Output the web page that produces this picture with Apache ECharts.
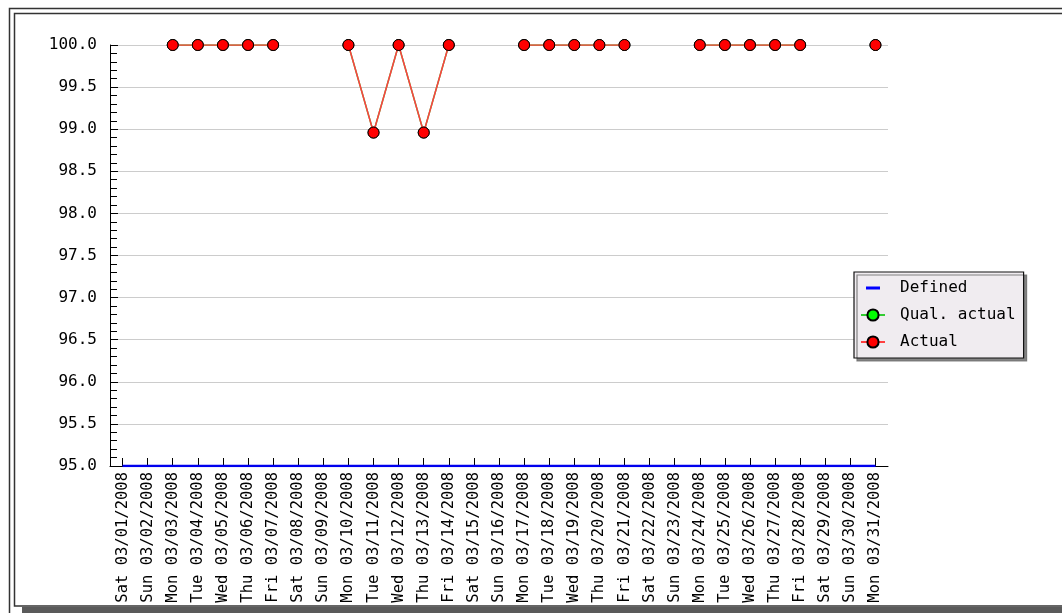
<!DOCTYPE html>
<html>
<head>
<meta charset="utf-8">
<script src="https://cdn.jsdelivr.net/npm/echarts@6/dist/echarts.min.js"></script>
<style>
html,body{margin:0;padding:0;background:#fff;}
#chart{width:1062px;height:613px;}
</style>
</head>
<body>
<div id="chart"></div>
<script>
var days = ['Sat','Sun','Mon','Tue','Wed','Thu','Fri','Sat','Sun','Mon','Tue','Wed','Thu','Fri','Sat','Sun','Mon','Tue','Wed','Thu','Fri','Sat','Sun','Mon','Tue','Wed','Thu','Fri','Sat','Sun','Mon'];
var dates = ['03/01/2008','03/02/2008','03/03/2008','03/04/2008','03/05/2008','03/06/2008','03/07/2008','03/08/2008','03/09/2008','03/10/2008','03/11/2008','03/12/2008','03/13/2008','03/14/2008','03/15/2008','03/16/2008','03/17/2008','03/18/2008','03/19/2008','03/20/2008','03/21/2008','03/22/2008','03/23/2008','03/24/2008','03/25/2008','03/26/2008','03/27/2008','03/28/2008','03/29/2008','03/30/2008','03/31/2008'];
var defined = [95,95,95,95,95,95,95,95,95,95,95,95,95,95,95,95,95,95,95,95,95,95,95,95,95,95,95,95,95,95,95];
var qualActual = [null,null,100,100,100,100,100,null,null,100,98.96,100,98.96,100,null,null,100,100,100,100,100,null,null,100,100,100,100,100,null,null,100];
var actual = [null,null,100,100,100,100,100,null,null,100,98.96,100,98.96,100,null,null,100,100,100,100,100,null,null,100,100,100,100,100,null,null,100];
var yTicks = {min: 95, max: 100, interval: 0.5};

var categories = dates.map(function(d, i){ return days[i] + ' ' + d; });
var FONT = 'DejaVu Sans Mono';

var chart = echarts.init(document.getElementById('chart'));
chart.setOption({
  animation: false,
  backgroundColor: '#ffffff',
  textStyle: {fontFamily: FONT},
  grid: {left: 110, right: 174, top: 45, bottom: 147, containLabel: false},
  graphic: [
    {type: 'rect', shape: {x: 9.5, y: 8.5, width: 1100, height: 700}, style: {fill: null, stroke: '#333', lineWidth: 1.5}, silent: true},
    {type: 'rect', shape: {x: 14.5, y: 13.5, width: 1100, height: 592.5}, style: {fill: null, stroke: '#333', lineWidth: 1.5}, silent: true},
    {type: 'rect', shape: {x: 22, y: 607, width: 1100, height: 10}, style: {fill: '#5a5a5a'}, silent: true}
  ],
  legend: {
    orient: 'vertical',
    left: 854,
    top: 272,
    padding: [8, 8, 8, 6],
    itemWidth: 24,
    itemHeight: 14,
    itemGap: 11,
    backgroundColor: '#f0ecf0',
    borderColor: '#111',
    borderWidth: 1.2,
    shadowColor: 'rgba(110,110,110,0.85)',
    shadowOffsetX: 3,
    shadowOffsetY: 3,
    shadowBlur: 0,
    textStyle: {fontFamily: FONT, fontSize: 16, color: '#000', padding: [0, 0, 0, 10]},
    data: [
      {name: 'Defined', icon: 'path://M0,0h0.05v0.05h-0.05z M5,5.5h14v3h-14z M23.95,13.95h0.05v0.05h-0.05z', itemStyle: {color: '#0000ff', borderWidth: 0}},
      {name: 'Qual. actual'},
      {name: 'Actual'}
    ]
  },
  xAxis: {
    type: 'category',
    data: categories,
    boundaryGap: true,
    axisLine: {lineStyle: {color: '#000', width: 1}},
    axisTick: {show: true, inside: true, alignWithLabel: true, length: 8, lineStyle: {color: '#000', width: 1}},
    axisLabel: {rotate: 90, margin: 6, fontFamily: FONT, fontSize: 15.5, color: '#000', interval: 0},
    splitLine: {show: false}
  },
  yAxis: {
    type: 'value',
    min: yTicks.min,
    max: yTicks.max,
    interval: yTicks.interval,
    axisLine: {show: true, lineStyle: {color: '#000', width: 1}},
    axisTick: {show: true, inside: true, length: 8, lineStyle: {color: '#000'}},
    minorTick: {show: true, splitNumber: 5, length: 7, lineStyle: {color: '#000'}},
    axisLabel: {margin: 13, fontFamily: FONT, fontSize: 16, color: '#000', formatter: function(v){ return v.toFixed(1); }},
    splitLine: {show: true, lineStyle: {color: '#cccccc', width: 1}}
  },
  series: [
    {
      name: 'Defined', type: 'line', data: defined, symbol: 'none',
      lineStyle: {color: '#0000ee', width: 2.5}, itemStyle: {color: '#0000ee'}, z: 3
    },
    {
      name: 'Qual. actual', type: 'line', data: qualActual, symbol: 'circle', symbolSize: 11,
      lineStyle: {color: '#33cc33', width: 1.5}, itemStyle: {color: '#00ff00', borderColor: '#000', borderWidth: 1}, z: 4
    },
    {
      name: 'Actual', type: 'line', data: actual, symbol: 'circle', symbolSize: 11,
      lineStyle: {color: '#ff4040', width: 1.5}, itemStyle: {color: '#ff0000', borderColor: '#000', borderWidth: 1}, z: 5
    }
  ]
});
</script>
</body>
</html>
